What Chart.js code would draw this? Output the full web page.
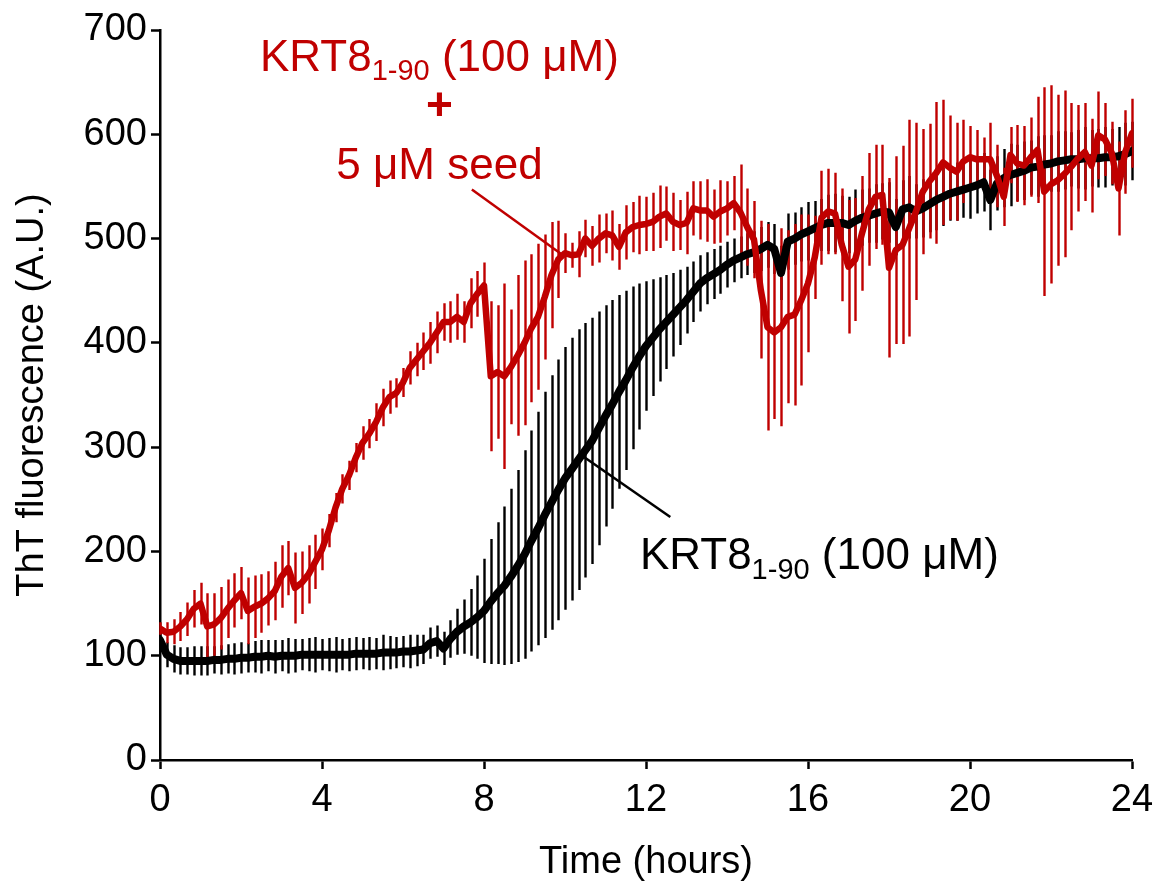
<!DOCTYPE html>
<html>
<head>
<meta charset="utf-8">
<title>ThT fluorescence</title>
<script src="https://cdn.jsdelivr.net/npm/chart.js@4/dist/chart.umd.min.js"></script>
<style>
	html, body { margin: 0; padding: 0; background: #fff; }
	#chart { display: block; }
</style>
</head>
<body>
<canvas id="chart" width="1160" height="883"></canvas>
<script>
	// Sampling times, minutes (one reading every 10 min over 24 h)
	const timeMin = [
		0, 10, 20, 30, 40, 50, 60, 70, 80, 90, 100, 110,
		120, 130, 140, 150, 160, 170, 180, 190, 200, 210, 220, 230,
		240, 250, 260, 270, 280, 290, 300, 310, 320, 330, 340, 350,
		360, 370, 380, 390, 400, 410, 420, 430, 440, 450, 460, 470,
		480, 490, 500, 510, 520, 530, 540, 550, 560, 570, 580, 590,
		600, 610, 620, 630, 640, 650, 660, 670, 680, 690, 700, 710,
		720, 730, 740, 750, 760, 770, 780, 790, 800, 810, 820, 830,
		840, 850, 860, 870, 880, 890, 900, 910, 920, 930, 940, 950,
		960, 970, 980, 990, 1000, 1010, 1020, 1030, 1040, 1050, 1060, 1070,
		1080, 1090, 1100, 1110, 1120, 1130, 1140, 1150, 1160, 1170, 1180, 1190,
		1200, 1210, 1220, 1230, 1240, 1250, 1260, 1270, 1280, 1290, 1300, 1310,
		1320, 1330, 1340, 1350, 1360, 1370, 1380, 1390, 1400, 1410, 1420, 1430,
		1440
	];

	// KRT8 1-90 (100 uM), unseeded
	const krtMean = [
		115, 101, 97, 95, 95, 95, 95, 95, 96, 96, 97, 97,
		98, 98, 99, 99, 100, 99, 100, 100, 100, 101, 101, 101,
		101, 101, 101, 101, 101, 102, 102, 102, 102, 103, 103, 103,
		104, 104, 105, 106, 112, 114, 107, 116, 123, 128, 132, 137,
		143, 152, 160, 167, 176, 186, 197, 210, 222, 235, 247, 259,
		270, 279, 288, 297, 306, 318, 330, 341, 353, 364, 376, 387,
		397, 405, 413, 420, 427, 434, 441, 449, 457, 462, 466, 470,
		475, 479, 482, 485, 487, 490, 494, 490, 467, 497, 500, 504,
		507, 510, 513, 515, 515, 515, 513, 517, 520, 522, 524, 526,
		525, 511, 528, 530, 526, 529, 533, 537, 540, 543, 545, 547,
		549, 551, 554, 537, 553, 558, 561, 563, 565, 568, 569, 571,
		572, 574, 575, 576, 576, 577, 577, 577, 578, 578, 579, 581,
		584
	];
	const krtErr = [
		8, 12, 13, 13, 13, 14, 14, 14, 13, 14, 14, 15,
		15, 14, 15, 16, 15, 16, 15, 17, 16, 15, 16, 17,
		15, 16, 17, 15, 16, 16, 15, 16, 15, 17, 16, 15,
		15, 16, 15, 14, 15, 15, 16, 18, 22, 26, 32, 40,
		50, 60, 68, 76, 84, 92, 100, 106, 112, 118, 122, 125,
		126, 126, 125, 122, 118, 112, 106, 100, 93, 86, 78, 70,
		62, 56, 50, 45, 40, 36, 32, 29, 27, 25, 24, 23,
		22, 21, 20, 20, 20, 21, 22, 24, 26, 27, 25, 26,
		28, 26, 25, 27, 28, 26, 27, 30, 27, 26, 28, 27,
		29, 27, 28, 30, 26, 28, 27, 29, 28, 26, 28, 27,
		30, 27, 28, 29, 26, 28, 30, 27, 28, 26, 29, 28,
		27, 29, 28, 26, 28, 30, 27, 28, 29, 27, 28, 30,
		28
	];

	// KRT8 1-90 (100 uM) + 5 uM seed
	const seedMean = [
		126, 122, 123, 128, 135, 145, 150, 128, 130, 136, 145, 153,
		160, 143, 147, 150, 155, 162, 176, 184, 165, 170, 178, 190,
		202, 220, 242, 260, 273, 290, 304, 313, 324, 338, 348, 352,
		362, 376, 384, 392, 400, 410, 420, 420, 425, 420, 438, 447,
		455, 368, 372, 368, 377, 388, 400, 414, 425, 444, 465, 480,
		486, 484, 485, 500, 493, 500, 505, 503, 492, 506, 511, 513,
		514, 516, 521, 524, 516, 513, 515, 529, 527, 527, 521, 526,
		529, 534, 525, 511, 499, 451, 415, 410, 415, 425, 427, 441,
		457, 482, 520, 526, 524, 494, 473, 480, 505, 528, 540, 542,
		472, 489, 494, 510, 526, 545, 555, 563, 573, 568, 564, 574,
		578, 576, 576, 576, 560, 540, 580, 572, 570, 578, 585, 545,
		552, 556, 562, 569, 577, 583, 570, 599, 595, 582, 548, 583,
		601
	];
	const seedErr = [
		6, 10, 12, 14, 16, 18, 20, 32, 30, 30, 28, 26,
		25, 32, 30, 28, 26, 28, 30, 26, 34, 30, 28, 26,
		20, 16, 14, 14, 14, 14, 16, 14, 18, 18, 16, 14,
		14, 16, 16, 18, 20, 20, 18, 20, 22, 20, 24, 22,
		22, 72, 64, 89, 55, 77, 79, 71, 70, 60, 51, 37,
		19, 12, 22, 18, 19, 23, 19, 24, 22, 26, 24, 28,
		26, 28, 30, 26, 28, 24, 30, 26, 28, 30, 26, 30,
		26, 26, 46, 37, 37, 66, 99, 83, 95, 83, 87, 82,
		66, 40, 45, 41, 39, 54, 64, 59, 55, 54, 50, 48,
		86, 90, 95, 104, 85, 60, 55, 68, 60, 50, 47, 40,
		30, 28, 21, 35, 30, 28, 27, 37, 38, 38, 51, 100,
		95, 82, 80, 61, 51, 47, 45, 42, 35, 30, 45, 40,
		33
	];

	const xTicks = [0, 4, 8, 12, 16, 20, 24];
	const yTicks = [0, 100, 200, 300, 400, 500, 600, 700];

	const RED = '#c00000';
	const BLACK = '#000000';
	const FONT = "'Liberation Sans', Arial, Helvetica, sans-serif";

	/**
	 * Pair times (hours) with values for a linear x axis
	 */
	function toPoints(values) {
		return values.map((v, i) => ({ x: timeMin[i] / 60, y: v }));
	}

	/**
	 * Vertical +/- error bars, drawn under the lines
	 */
	const errorBarsPlugin = {
		id: 'errorBars',
		beforeDatasetsDraw(chart) {
			const { ctx } = chart;
			const xScale = chart.scales.x;
			const yScale = chart.scales.y;

			ctx.save();
			ctx.lineCap = 'butt';
			chart.data.datasets.slice().reverse().forEach(ds => {
				if (!ds.errors) return;
				ctx.strokeStyle = ds.borderColor;
				ctx.lineWidth = 2.4;
				ctx.beginPath();
				ds.data.forEach((p, i) => {
					const px = Math.round(xScale.getPixelForValue(p.x)) + 0.5;
					ctx.moveTo(px, yScale.getPixelForValue(p.y - ds.errors[i]));
					ctx.lineTo(px, yScale.getPixelForValue(p.y + ds.errors[i]));
				});
				ctx.stroke();
			});
			ctx.restore();
		}
	};

	/**
	 * Draw "KRT8" with a subscripted "1-90" and trailing text
	 */
	function drawKrtLabel(ctx, x0, baseline, color, size, align) {
		const mainFont = size + 'px ' + FONT;
		const subFont = Math.round(size * 0.66) + 'px ' + FONT;
		const parts = [
			{ text: 'KRT8', font: mainFont, dy: 0 },
			{ text: '1-90', font: subFont, dy: size * 0.22 },
			{ text: ' (100 μM)', font: mainFont, dy: 0 }
		];
		let total = 0;
		parts.forEach(p => {
			ctx.font = p.font;
			p.w = ctx.measureText(p.text).width;
			total += p.w;
		});
		let x = align === 'left' ? x0 : x0 - total / 2;
		ctx.fillStyle = color;
		ctx.textAlign = 'left';
		ctx.textBaseline = 'alphabetic';
		parts.forEach(p => {
			ctx.font = p.font;
			ctx.fillText(p.text, x, baseline + p.dy);
			x += p.w;
		});
	}

	/**
	 * Series labels and leader lines, placed in data coordinates
	 */
	const annotationsPlugin = {
		id: 'seriesLabels',
		afterDraw(chart) {
			const { ctx } = chart;
			const xs = chart.scales.x;
			const ys = chart.scales.y;
			const px = h => xs.getPixelForValue(h);
			const py = v => ys.getPixelForValue(v);

			ctx.save();

			// seeded label (red, three lines)
			drawKrtLabel(ctx, px(6.9), py(661), RED, 44, 'center');
			ctx.font = 'bold 46px ' + FONT;
			ctx.textAlign = 'center';
			ctx.fillText('+', px(6.9), py(614));
			ctx.font = '44px ' + FONT;
			ctx.fillText('5 μM seed', px(6.9), py(557));

			ctx.strokeStyle = RED;
			ctx.lineWidth = 2.5;
			ctx.beginPath();
			ctx.moveTo(px(7.7), py(547));
			ctx.lineTo(px(9.95), py(484));
			ctx.stroke();

			// unseeded label (black)
			drawKrtLabel(ctx, px(11.85), py(183), BLACK, 44, 'left');

			ctx.strokeStyle = BLACK;
			ctx.beginPath();
			ctx.moveTo(px(10.45), py(291));
			ctx.lineTo(px(12.6), py(233));
			ctx.stroke();

			ctx.restore();
		}
	};

	const axisStyle = {
		border: { display: true, color: BLACK, width: 2.5 },
		grid: {
			display: true,
			drawOnChartArea: false,
			drawTicks: true,
			tickLength: 9,
			tickWidth: 2.5,
			tickColor: BLACK
		}
	};

	new Chart(document.getElementById('chart'), {
		type: 'line',
		data: {
			datasets: [
				{
					label: 'KRT8 1-90 (100 μM) + 5 μM seed',
					data: toPoints(seedMean),
					errors: seedErr,
					borderColor: RED,
					borderWidth: 6.5,
					borderJoinStyle: 'round',
					borderCapStyle: 'round',
					pointRadius: 0,
					tension: 0,
					fill: false
				},
				{
					label: 'KRT8 1-90 (100 μM)',
					data: toPoints(krtMean),
					errors: krtErr,
					borderColor: BLACK,
					borderWidth: 8,
					borderJoinStyle: 'round',
					borderCapStyle: 'round',
					pointRadius: 0,
					tension: 0,
					fill: false
				}
			]
		},
		options: {
			responsive: false,
			animation: false,
			devicePixelRatio: 1,
			layout: {
				padding: { top: 30, right: 28, left: 0, bottom: 0 }
			},
			plugins: {
				legend: { display: false },
				tooltip: { enabled: false }
			},
			scales: {
				x: {
					type: 'linear',
					min: 0,
					max: 24,
					...axisStyle,
					afterFit: scale => {
						// keep the plot edges fixed, labels may overhang
						scale.height = 123;
						scale.paddingLeft = 0;
						scale.paddingRight = 0;
					},
					afterBuildTicks: scale => {
						scale.ticks = xTicks.map(v => ({ value: v }));
					},
					ticks: {
						color: BLACK,
						padding: 9,
						maxRotation: 0,
						font: { family: FONT, size: 38 }
					},
					title: {
						display: true,
						text: 'Time (hours)',
						color: BLACK,
						padding: { top: 0, bottom: -2 },
						font: { family: FONT, size: 38 }
					}
				},
				y: {
					type: 'linear',
					min: 0,
					max: 700,
					...axisStyle,
					afterFit: scale => {
						scale.width = 160;
						scale.paddingTop = 0;
						scale.paddingBottom = 0;
					},
					afterBuildTicks: scale => {
						scale.ticks = yTicks.map(v => ({ value: v }));
					},
					ticks: {
						color: BLACK,
						padding: 4,
						font: { family: FONT, size: 38 }
					},
					title: {
						display: true,
						text: 'ThT fluorescence (A.U.)',
						color: BLACK,
						padding: { top: 10, bottom: 0 },
						font: { family: FONT, size: 38 }
					}
				}
			}
		},
		plugins: [errorBarsPlugin, annotationsPlugin]
	});
</script>
</body>
</html>
